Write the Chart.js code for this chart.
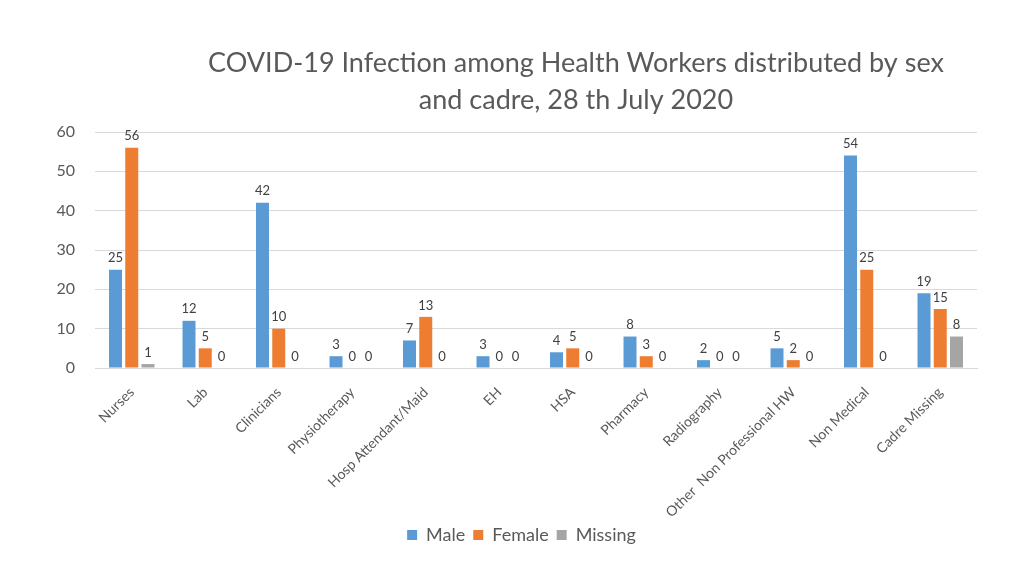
<!DOCTYPE html>
<html>
<head>
<meta charset="utf-8">
<script src="https://cdn.jsdelivr.net/npm/chart.js@4"></script>
<style>
html,body{margin:0;padding:0;background:#fff;}
#wrap{width:1024px;height:576px;position:relative;}
</style>
</head>
<body>
<div id="wrap"><canvas id="c" width="1024" height="576"></canvas></div>
<script>
const titleLines = ["COVID-19 Infection among Health Workers distributed by sex", "and cadre, 28 th July 2020"];
const categories = ["Nurses","Lab","Clinicians","Physiotherapy","Hosp Attendant/Maid","EH","HSA","Pharmacy","Radiography","Other  Non Professional HW","Non Medical","Cadre Missing"];
const male    = [25,12,42,3,7,3,4,8,2,5,54,19];
const female  = [56,5,10,0,13,0,5,3,0,2,25,15];
const missing = [1,0,0,0,0,0,0,0,0,0,0,8];
const seriesNames = ["Male","Female","Missing"];
const yTicks = [0,10,20,30,40,50,60];

const FONT = "Lato, 'Open Sans', sans-serif";
const TXT = "#595959";

const labelPlugin = {
  id: 'barLabels',
  afterDatasetsDraw(chart) {
    const ctx = chart.ctx;
    ctx.save();
    ctx.font = "13px " + FONT;
    ctx.fillStyle = "#404040";
    ctx.textAlign = "center";
    ctx.textBaseline = "bottom";
    chart.data.datasets.forEach((ds, i) => {
      const meta = chart.getDatasetMeta(i);
      meta.data.forEach((bar, j) => {
        ctx.fillText(String(ds.data[j]), bar.x, bar.y - 5);
      });
    });
    ctx.restore();
  }
};

const titlePlugin = {
  id: 'customTitle',
  afterLayout(chart) {
    if (chart.legend) { chart.legend.left += 18; chart.legend.right += 18; }
  },
  afterDraw(chart) {
    const ctx = chart.ctx;
    ctx.save();
    ctx.font = "27px " + FONT;
    ctx.fillStyle = TXT;
    ctx.textAlign = "center";
    ctx.textBaseline = "middle";
    ctx.fillText(titleLines[0], 576, 63);
    ctx.fillText(titleLines[1], 576, 100);
    ctx.restore();
  }
};

new Chart(document.getElementById('c'), {
  type: 'bar',
  data: {
    labels: categories,
    datasets: [
      {label: seriesNames[0], data: male, backgroundColor: '#5B9BD5'},
      {label: seriesNames[1], data: female, backgroundColor: '#ED7D31'},
      {label: seriesNames[2], data: missing, backgroundColor: '#A5A5A5'}
    ]
  },
  options: {
    responsive: false,
    animation: false,
    devicePixelRatio: 1,
    layout: {padding: {top: 132, left: 30, right: 47, bottom: 22}},
    datasets: {bar: {categoryPercentage: 0.663, barPercentage: 0.8}},
    plugins: {
      title: {display: false},
      tooltip: {enabled: false},
      legend: {
        position: 'bottom',
        labels: {font: {size: 18, family: FONT}, color: TXT, boxWidth: 10, boxHeight: 10, padding: 8}
      }
    },
    scales: {
      x: {
        grid: {display: false, drawTicks: false},
        border: {display: true, color: '#d9d9d9'},
        ticks: {font: {size: 14, family: FONT}, color: TXT, maxRotation: 45, minRotation: 45, padding: 16, autoSkip: false},
        afterFit(s) { s.height = 150; }
      },
      y: {
        min: 0, max: 60,
        afterBuildTicks(s) { s.ticks = yTicks.map(v => ({value: v})); },
        grid: {color: '#d9d9d9', drawTicks: false},
        border: {display: false},
        ticks: {font: {size: 16, family: FONT}, color: TXT, padding: 20},
        afterFit(s) { s.width = 65; }
      }
    }
  },
  plugins: [labelPlugin, titlePlugin]
});
</script>
</body>
</html>
